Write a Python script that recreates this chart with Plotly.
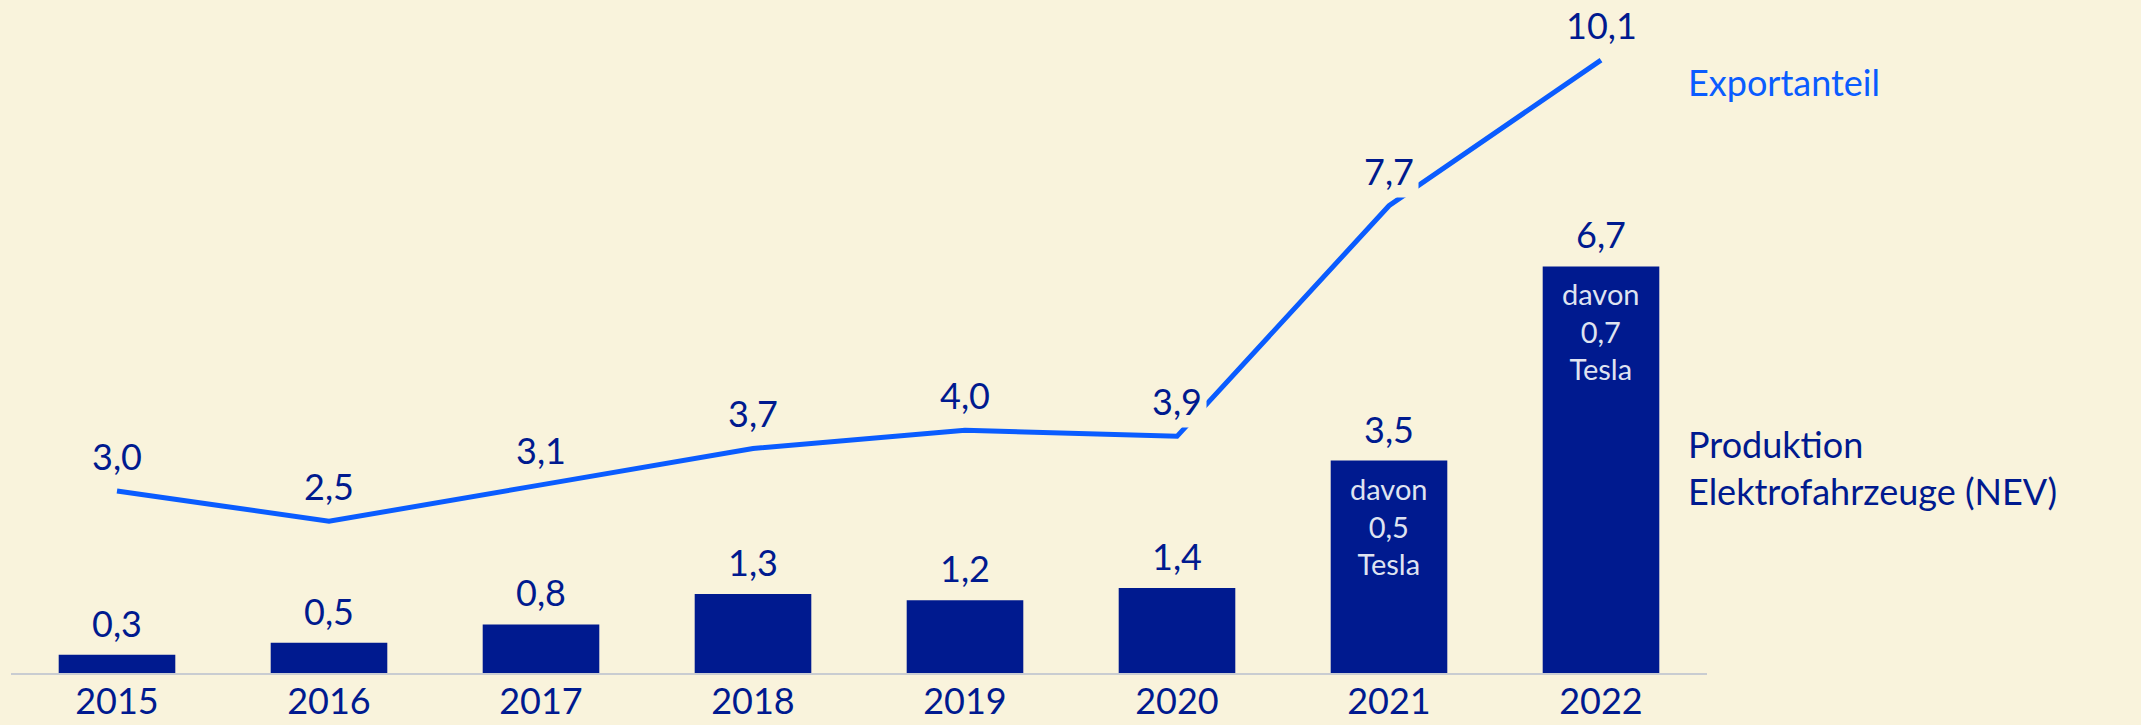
import plotly.graph_objects as go

years = ["2015", "2016", "2017", "2018", "2019", "2020", "2021", "2022"]
production = [0.3, 0.5, 0.8, 1.3, 1.2, 1.4, 3.5, 6.7]
export_share = [3.0, 2.5, 3.1, 3.7, 4.0, 3.9, 7.7, 10.1]
tesla_years = ["2021", "2022"]
tesla_values = [0.5, 0.7]

BG = "#f9f3dc"
NAVY = "#001a8f"
BLUE = "#0a5cff"
FONT = "Lato"


def de(v):
    return f"{v:.1f}".replace(".", ",")


fig = go.Figure()
fig.add_trace(go.Bar(x=years, y=production, marker_color=NAVY, marker_line_width=0,
                     width=0.55, hoverinfo="skip"))
fig.add_trace(go.Scatter(x=years, y=export_share, mode="lines",
                         line=dict(color=BLUE, width=5), hoverinfo="skip"))

# category axes want the serial index for annotations
ann = []
for i, v in enumerate(production):
    ann.append(dict(x=i, y=v, text=de(v), showarrow=False, yanchor="bottom", yshift=8,
                    font=dict(size=36, color=NAVY)))
for i, v in enumerate(export_share):
    ann.append(dict(x=i, y=v, text=de(v), showarrow=False, yshift=35, bgcolor=BG,
                    borderpad=4, font=dict(size=36, color=NAVY)))
for yr, v in zip(tesla_years, tesla_values):
    i = years.index(yr)
    ann.append(dict(x=i, y=production[i], text=f"davon<br>{de(v)}<br>Tesla", showarrow=False,
                    yanchor="top", yshift=-8, font=dict(size=29, color="#dfe3f0")))

ann.append(dict(xref="paper", x=0.9875, y=9.74, text="Exportanteil", showarrow=False,
                xanchor="left", align="left", font=dict(size=36, color=BLUE)))
ann.append(dict(xref="paper", x=0.9875, y=3.38, text="Produktion<br>Elektrofahrzeuge (NEV)",
                showarrow=False, xanchor="left", align="left", font=dict(size=36, color=NAVY)))

fig.update_layout(
    template="none",
    width=2141, height=725,
    margin=dict(l=11, r=434, t=0, b=52),
    paper_bgcolor=BG, plot_bgcolor=BG,
    showlegend=False,
    font=dict(family=FONT, color=NAVY),
    annotations=ann,
)
fig.update_xaxes(type="category", range=[-0.5, 7.5], showgrid=False, showline=True,
                 linecolor="#c9ccd1", linewidth=2, ticks="", automargin=False,
                 ticklabelstandoff=-4, tickfont=dict(size=36, color=NAVY))
fig.update_yaxes(range=[0, 11.09], visible=False, showgrid=False, zeroline=False)

fig.write_html("out.html", config={"displayModeBar": False},
               post_script="document.body.style.margin='0';document.body.style.background='%s';" % BG)
